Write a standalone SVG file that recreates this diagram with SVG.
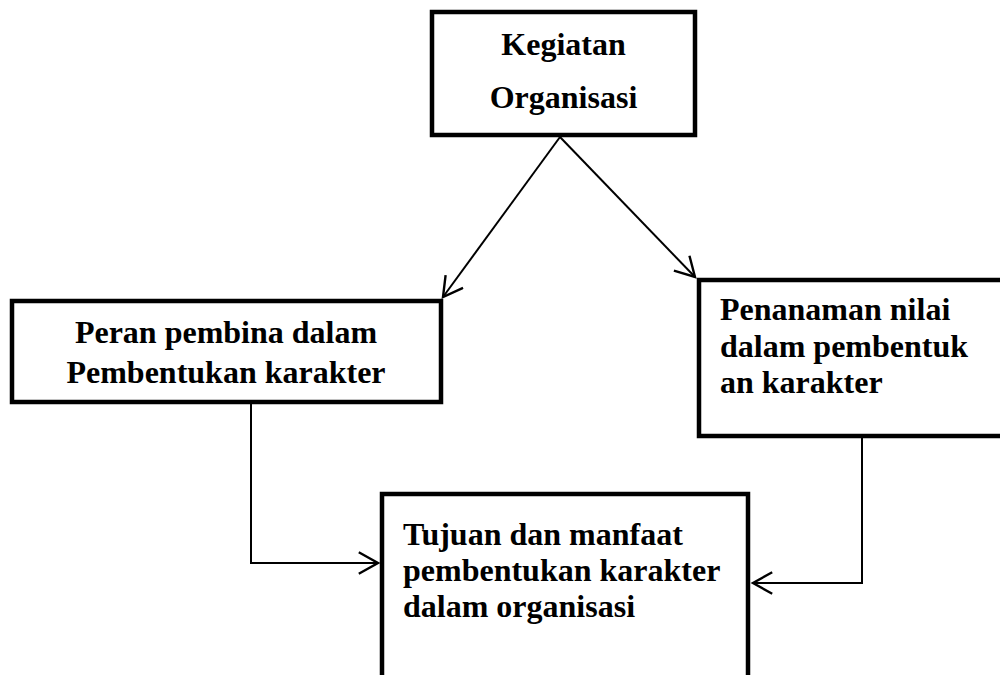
<svg xmlns="http://www.w3.org/2000/svg" width="1000" height="675" viewBox="0 0 1000 675">
<style>
.box{fill:#fff;stroke:#000;stroke-width:4.5}
.t{font-family:"Liberation Serif","Times New Roman",serif;font-weight:bold;font-size:32px;fill:#000}
.c{fill:none;stroke:#000;stroke-width:2}
</style>
<defs>
<marker id="arr" markerUnits="userSpaceOnUse" markerWidth="24" markerHeight="24" refX="17" refY="10" orient="auto" viewBox="0 0 20 20">
<path d="M1,1 L17,10 L1,19" fill="none" stroke="#000" stroke-width="2"/>
</marker>
</defs>
<rect width="1000" height="675" fill="#fff"/>
<g id="connectors">
<line class="c" x1="560" y1="137" x2="443" y2="297" marker-end="url(#arr)"/>
<line class="c" x1="560" y1="137" x2="695" y2="277" marker-end="url(#arr)"/>
<polyline class="c" points="251,403 251,563 378,563" marker-end="url(#arr)"/>
<polyline class="c" points="862,437 862,583 753,583" marker-end="url(#arr)"/>
</g>
<g id="node-kegiatan">
<rect class="box" x="432" y="12" width="263" height="123"/>
<text class="t" x="563.5" y="55" text-anchor="middle">Kegiatan</text>
<text class="t" x="563.5" y="108" text-anchor="middle">Organisasi</text>
</g>
<g id="node-peran">
<rect class="box" x="12" y="301" width="429" height="101"/>
<text class="t" x="226" y="343" text-anchor="middle">Peran pembina dalam</text>
<text class="t" x="226" y="383" text-anchor="middle">Pembentukan karakter</text>
</g>
<g id="node-penanaman">
<rect class="box" x="699" y="280" width="310" height="156"/>
<text class="t" x="720" y="320">Penanaman nilai</text>
<text class="t" x="720" y="357">dalam pembentuk</text>
<text class="t" x="720" y="393">an karakter</text>
</g>
<g id="node-tujuan">
<rect class="box" x="382" y="494" width="366" height="200"/>
<text class="t" x="403" y="545">Tujuan dan manfaat</text>
<text class="t" x="403" y="581">pembentukan karakter</text>
<text class="t" x="403" y="617">dalam organisasi</text>
</g>
</svg>
